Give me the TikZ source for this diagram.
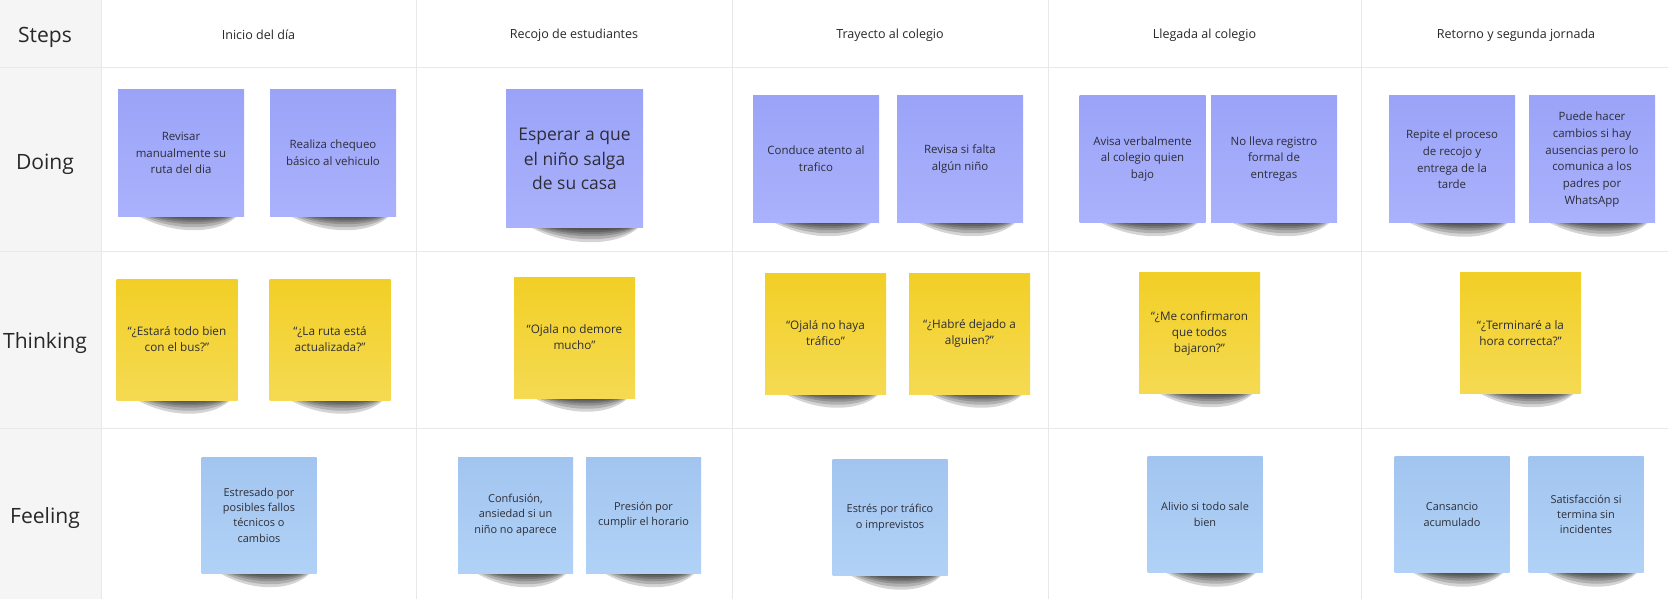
\documentclass[tikz,border=0pt]{standalone}
\usepackage{fontspec}
\setmainfont{Open Sans}

\definecolor{labelbg}{RGB}{245,245,245}
\definecolor{gridline}{RGB}{232,232,232}
\definecolor{doingtop}{RGB}{155,163,248}
\definecolor{doingbot}{RGB}{170,178,252}
\definecolor{thinktop}{RGB}{242,207,38}
\definecolor{thinkbot}{RGB}{245,218,82}
\definecolor{feeltop}{RGB}{162,197,240}
\definecolor{feelbot}{RGB}{177,210,246}
\definecolor{notetext}{RGB}{45,45,55}
\definecolor{headtext}{RGB}{40,40,40}

\begin{document}
\begin{tikzpicture}[x=0.75pt,y=-0.75pt,
	grid/.style={gridline,line width=0.75pt},
	steplabel/.style={text=headtext,font=\fontsize{9.4}{11}\selectfont},
	rowlabel/.style={text=headtext,font=\fontsize{15.8}{18}\selectfont},
	note/.style={inner sep=0pt,align=center,text=notetext},
	shadowlayer/.style={black,opacity=0.17},
	doingnote/.style={note,minimum width=94.5pt,minimum height=95.25pt,
		top color=doingtop,bottom color=doingbot,font=\fontsize{8.6}{12.5}\selectfont},
	thinknote/.style={note,minimum width=90.75pt,minimum height=90.75pt,
		top color=thinktop,bottom color=thinkbot,font=\fontsize{8.8}{12}\selectfont},
	feelnote/.style={note,minimum width=86.25pt,minimum height=87pt,
		top color=feeltop,bottom color=feelbot,font=\fontsize{8.2}{11.5}\selectfont}]

	\useasboundingbox (0,0) rectangle (1668,599);
	\fill[white] (0,0) rectangle (1668,599);
	\fill[labelbg] (0,0) rectangle (101,599);

	\foreach \y in {68,252,428}
		\draw[grid] (0,\y) -- (1668,\y);
	\foreach \x in {101,416,732,1048,1361}
		\draw[grid] (\x,0) -- (\x,599);

	% row labels
	\node[rowlabel] (steps) at (45,37) {Steps};
	\node[rowlabel] (doing) at (45,164) {Doing};
	\node[rowlabel] (thinking) at (45,343) {Thinking};
	\node[rowlabel] (feeling) at (45,518) {Feeling};

	% steps
	\node[steplabel] (inicio) at (258.5,35) {Inicio del día};
	\node[steplabel] (recojo) at (574,35) {Recojo de estudiantes};
	\node[steplabel] (trayecto) at (890,35) {Trayecto al colegio};
	\node[steplabel] (llegada) at (1204.5,35) {Llegada al colegio};
	\node[steplabel] (retorno) at (1516,35) {Retorno y segunda jornada};

	% shadows under the notes, built from a few thin layers
	\foreach \x/\y in {181/153,333/153,816/159,960/159,1142.5/159,1274/159,1452/159.5,1592/159.5}
		\foreach \d in {7,9.5,12,15,19,23}
			\fill[shadowlayer] ({\x-48+0.8*(23-\d)},\y+60) .. controls (\x-10,\y+60+\d) and (\x+40,\y+60+\d) .. ({\x+59-0.3*(23-\d)},\y+60) -- cycle;
	\foreach \d in {7,9.5,12,15,19,23}
		\fill[shadowlayer] ({526.5+0.8*(23-\d)},225) .. controls (566,225+\d) and (620,225+\d) .. ({641-0.3*(23-\d)},225) -- cycle;
	\foreach \x/\y in {177/339.5,330/339.5,574.5/337.5,825.5/333.5,969.5/333.5,1199.5/333,1520.5/333}
		\foreach \d in {7,9.5,12,15,19,23}
			\fill[shadowlayer] ({\x-46+0.8*(23-\d)},\y+57) .. controls (\x-10,\y+57+\d) and (\x+38,\y+57+\d) .. ({\x+57-0.3*(23-\d)},\y+57) -- cycle;
	\foreach \x/\y in {259/515,515.5/515,643.5/515,890/517.5,1205/514.5,1452/514.5,1586/514.5}
		\foreach \d in {7,9.5,12,15,19,23}
			\fill[shadowlayer] ({\x-44+0.8*(23-\d)},\y+55) .. controls (\x-10,\y+55+\d) and (\x+36,\y+55+\d) .. ({\x+54-0.3*(23-\d)},\y+55) -- cycle;

	% doing
	\node[doingnote] (revisar) at (181,153) {Revisar\\manualmente su\\ruta del dia};
	\node[doingnote] (realiza) at (333,153) {Realiza chequeo\\básico al vehiculo};
	\node[doingnote,minimum width=102.75pt,minimum height=103.5pt,
		font=\fontsize{13.1}{18.4}\selectfont] (esperar) at (574.5,159)
		{Esperar a que\\el niño salga\\de su casa};
	\node[doingnote] (conduce) at (816,159) {Conduce atento al\\trafico};
	\node[doingnote] (revisa) at (960,159) {Revisa si falta\\algún niño};
	\node[doingnote] (avisa) at (1142.5,159) {Avisa verbalmente\\al colegio quien\\bajo};
	\node[doingnote] (nolleva) at (1274,159) {No lleva registro\\formal de\\entregas};
	\node[doingnote] (repite) at (1452,159.5) {Repite el proceso\\de recojo y\\entrega de la\\tarde};
	\node[doingnote] (puede) at (1592,159.5) {Puede hacer\\cambios si hay\\ausencias pero lo\\comunica a los\\padres por\\WhatsApp};

	% thinking
	\node[thinknote] (estara) at (177,339.5) {“¿Estará todo bien\\con el bus?”};
	\node[thinknote] (laruta) at (330,339.5) {“¿La ruta está\\actualizada?”};
	\node[thinknote] (demore) at (574.5,337.5) {“Ojala no demore\\mucho”};
	\node[thinknote] (trafico) at (825.5,333.5) {“Ojalá no haya\\tráfico”};
	\node[thinknote] (dejado) at (969.5,333.5) {“¿Habré dejado a\\alguien?”};
	\node[thinknote] (confirmaron) at (1199.5,333) {“¿Me confirmaron\\que todos\\bajaron?”};
	\node[thinknote] (terminare) at (1520.5,333) {“¿Terminaré a la\\hora correcta?”};

	% feeling
	\node[feelnote] (estresado) at (259,515) {Estresado por\\posibles fallos\\técnicos o\\cambios};
	\node[feelnote] (confusion) at (515.5,515) {Confusión,\\ansiedad si un\\niño no aparece};
	\node[feelnote] (presion) at (643.5,515) {Presión por\\cumplir el horario};
	\node[feelnote] (estres) at (890,517.5) {Estrés por tráfico\\o imprevistos};
	\node[feelnote] (alivio) at (1205,514.5) {Alivio si todo sale\\bien};
	\node[feelnote] (cansancio) at (1452,514.5) {Cansancio\\acumulado};
	\node[feelnote] (satisfaccion) at (1586,514.5) {Satisfacción si\\termina sin\\incidentes};

\end{tikzpicture}
\end{document}
